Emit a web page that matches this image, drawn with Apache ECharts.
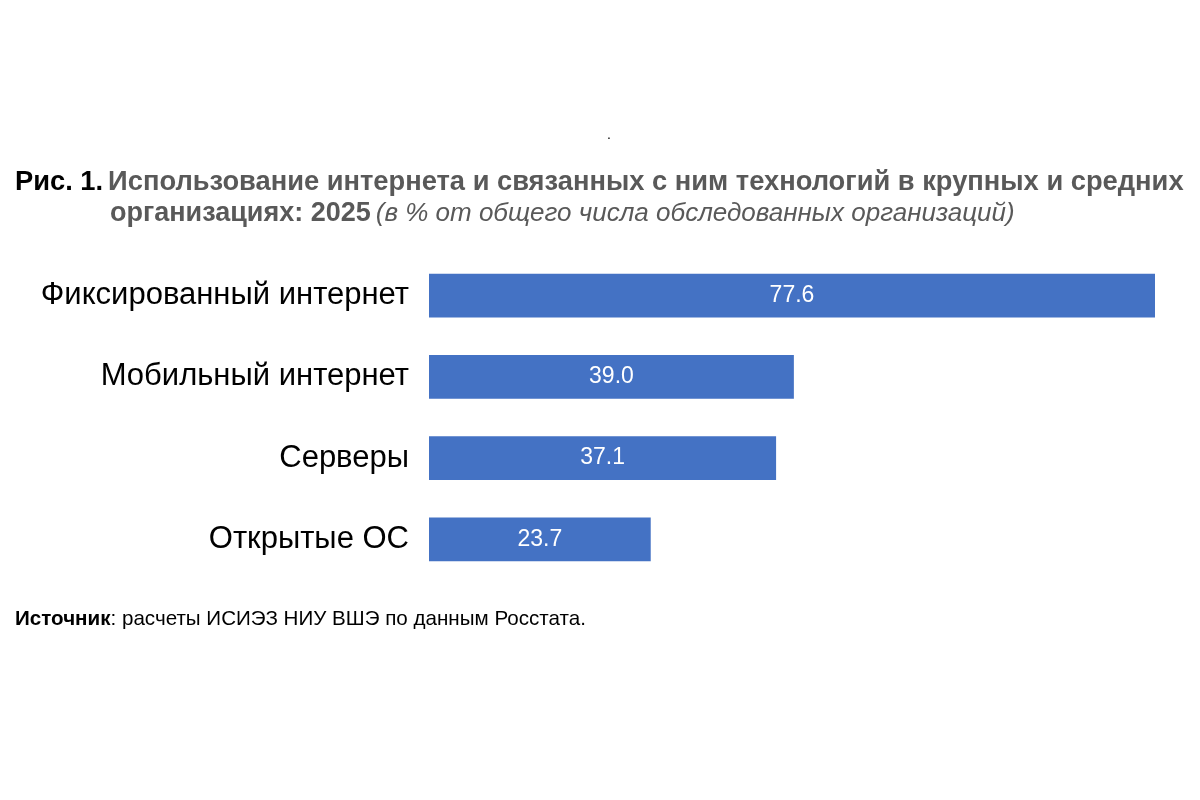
<!DOCTYPE html>
<html>
<head>
<meta charset="utf-8">
<script src="https://cdn.jsdelivr.net/npm/echarts@6/dist/echarts.min.js"></script>
<style>
  html, body { margin: 0; padding: 0; background: #fff; }
  #main { width: 1200px; height: 800px; }
</style>
</head>
<body>
<div id="main"></div>
<script>
// данные
var categories = ['Фиксированный интернет', 'Мобильный интернет', 'Серверы', 'Открытые ОС'];
var values = [77.6, 39.0, 37.1, 23.7];

var chart = echarts.init(document.getElementById('main'));
var font = 'Liberation Sans';

var option = {
  backgroundColor: '#ffffff',
  animation: false,
  title: [
    {
      left: 15, top: 169, padding: 0,
      text: '{a|Рис. 1.} {b|Использование интернета и связанных с ним технологий в крупных и средних}',
      textStyle: {
        fontFamily: font,
        rich: {
          a: { fontFamily: font, fontSize: 27.3, fontWeight: 'bold', color: '#000000' },
          b: { fontFamily: font, fontSize: 27.3, fontWeight: 'bold', color: '#595959' }
        }
      }
    },
    {
      left: 110, top: 200, padding: 0,
      text: '{b|организациях: 2025} {c|(в % от общего числа обследованных организаций)}',
      textStyle: {
        fontFamily: font,
        rich: {
          b: { fontFamily: font, fontSize: 27, fontWeight: 'bold', color: '#595959' },
          c: { fontFamily: font, fontSize: 26, fontWeight: 'normal', fontStyle: 'italic', color: '#595959' }
        }
      }
    },
    {
      left: 15, top: 609, padding: 0,
      text: '{a|Источник}{b|: расчеты ИСИЭЗ НИУ ВШЭ по данным Росстата.}',
      textStyle: {
        fontFamily: font,
        rich: {
          a: { fontFamily: font, fontSize: 20.6, fontWeight: 'bold', color: '#000000' },
          b: { fontFamily: font, fontSize: 20.6, fontWeight: 'normal', color: '#000000' }
        }
      }
    },
    {
      left: 607, top: 128, padding: 0,
      text: '.',
      textStyle: { fontFamily: font, fontSize: 14, fontWeight: 'normal', color: '#000000' }
    }
  ],
  grid: { left: 429, right: 45, top: 255, bottom: 220 },
  xAxis: {
    type: 'value',
    min: 0,
    max: 77.6,
    show: false
  },
  yAxis: {
    type: 'category',
    inverse: true,
    data: categories,
    axisLine: { show: false },
    axisTick: { show: false },
    axisLabel: {
      margin: 20,
      fontFamily: font,
      fontSize: 31,
      color: '#000000'
    }
  },
  series: [
    {
      type: 'bar',
      data: values,
      barCategoryGap: '46%',
      itemStyle: { color: '#4472C4' },
      label: {
        show: true,
        position: 'inside',
        fontFamily: font,
        fontSize: 23,
        color: '#ffffff',
        formatter: function (p) { return p.value.toFixed(1); }
      }
    }
  ]
};

chart.setOption(option);
</script>
</body>
</html>
